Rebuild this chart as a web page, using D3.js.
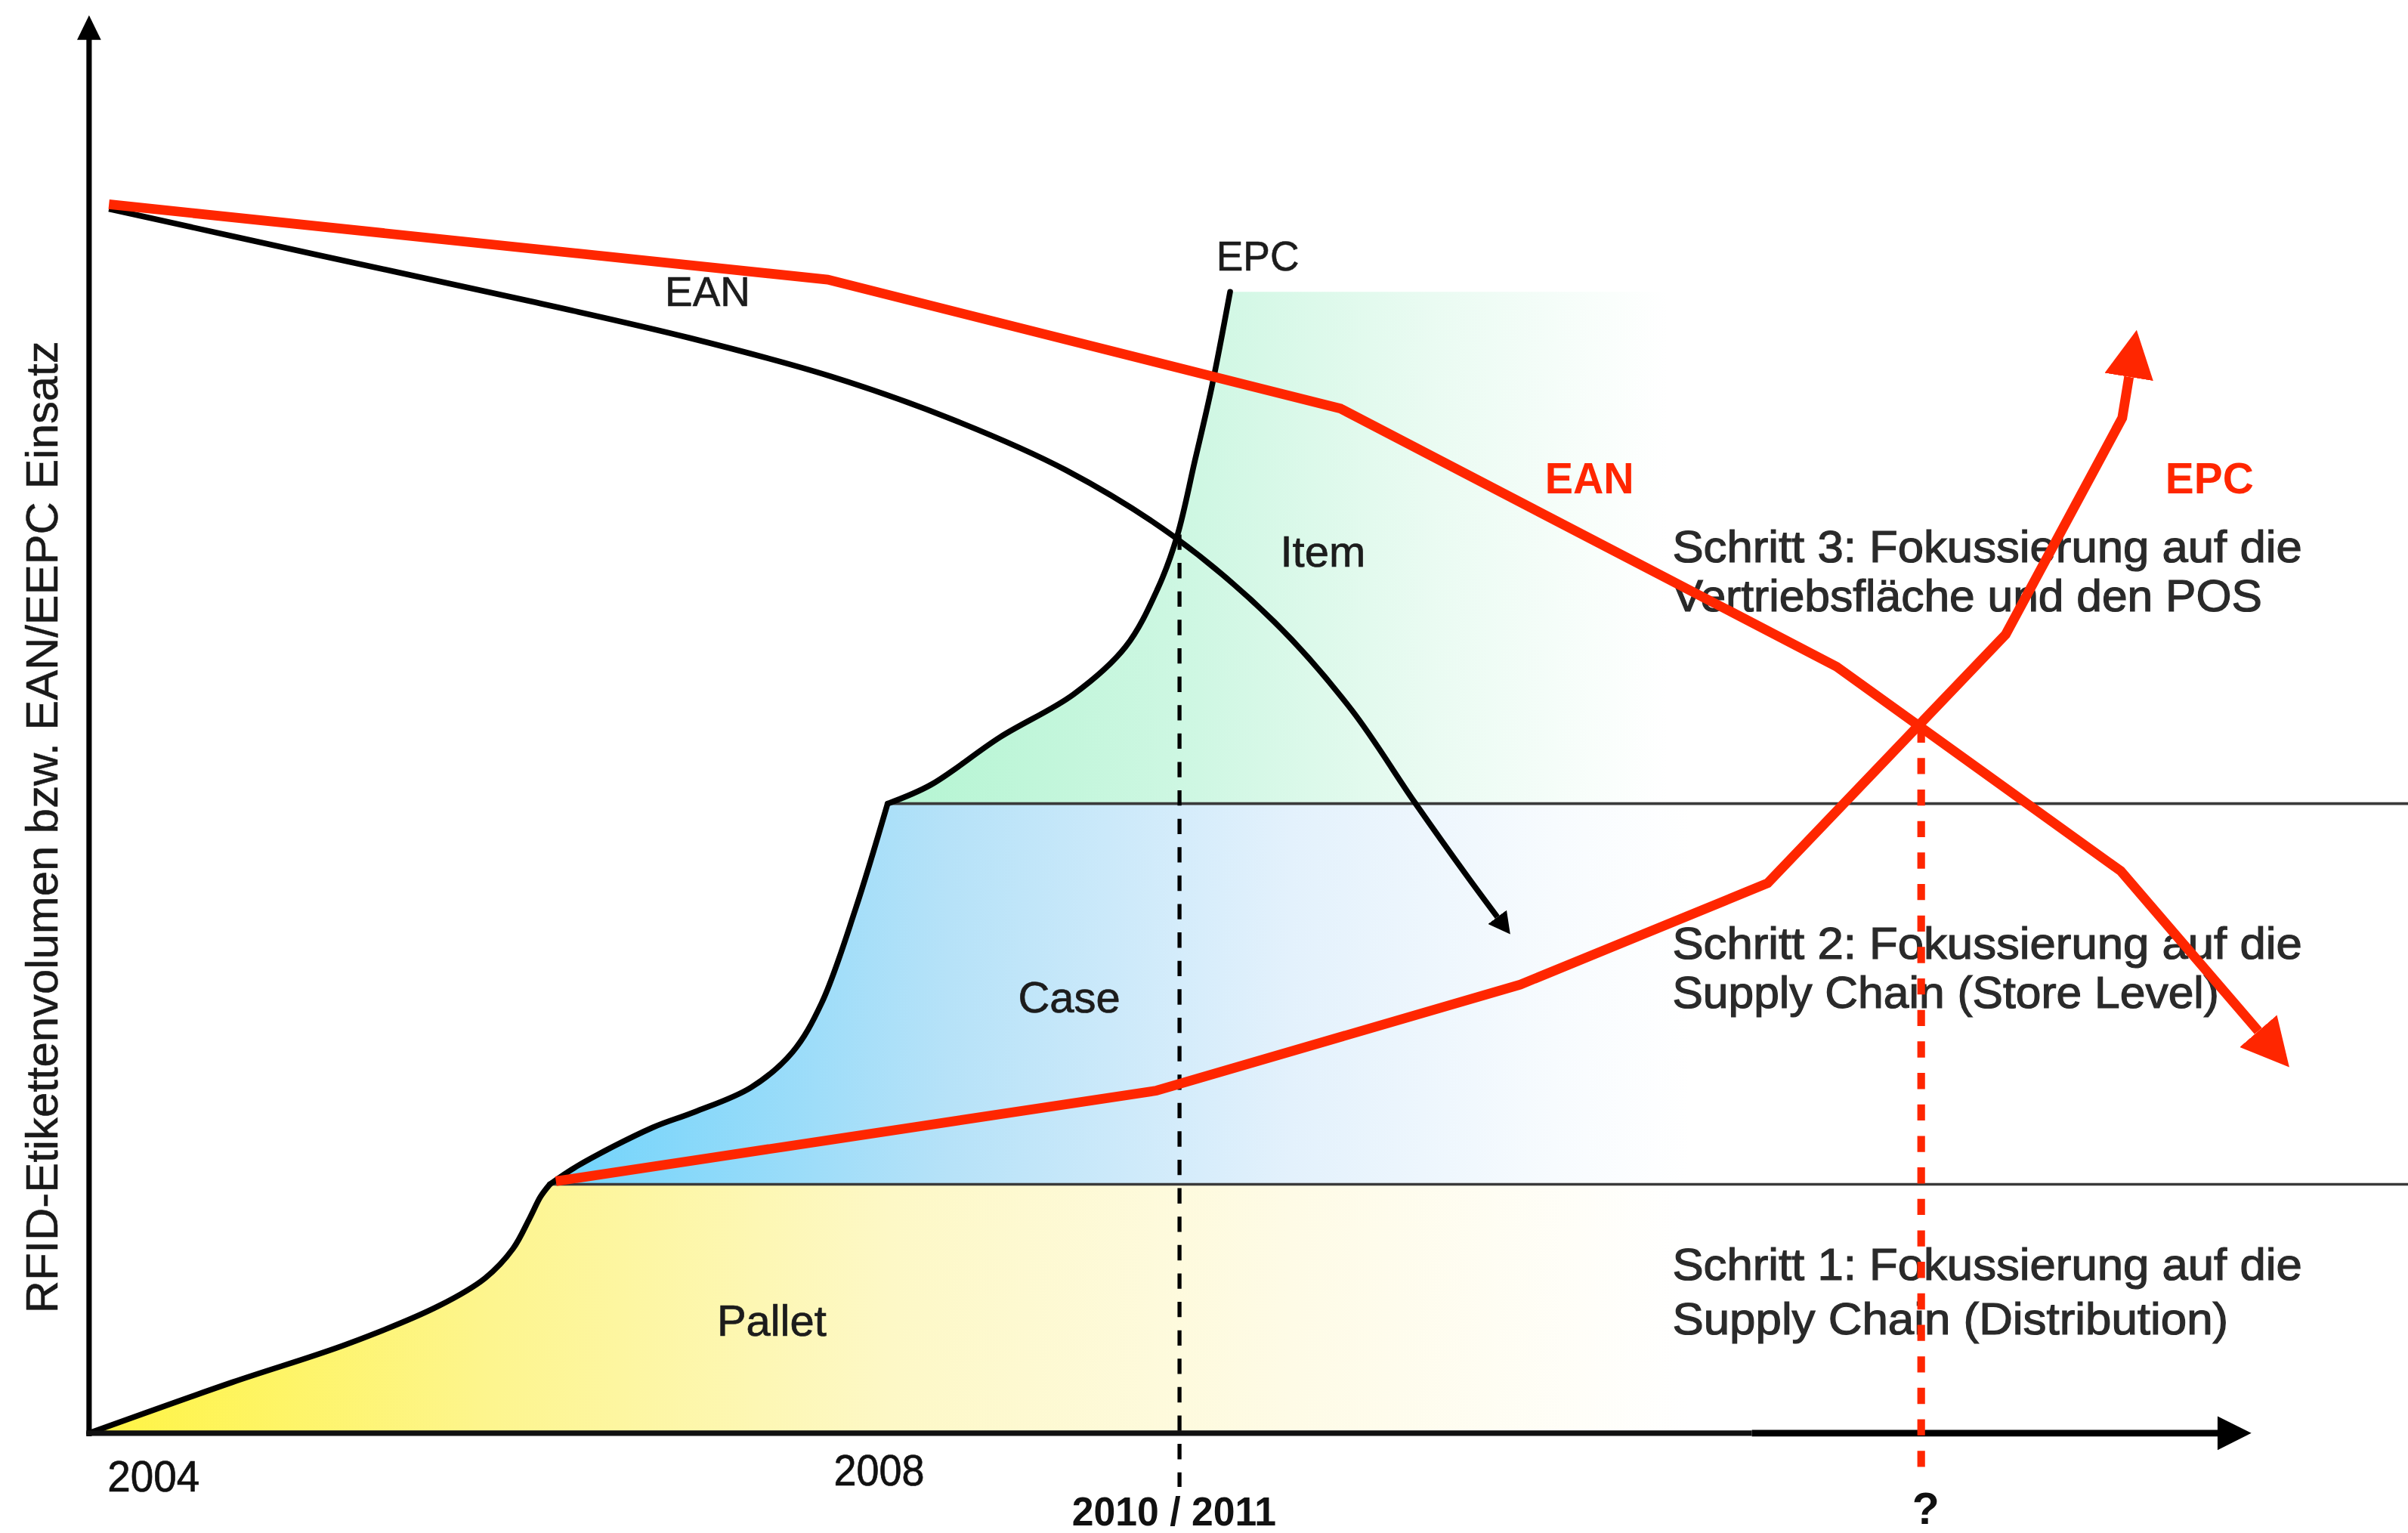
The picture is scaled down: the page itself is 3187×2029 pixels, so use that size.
<!DOCTYPE html>
<html>
<head>
<meta charset="utf-8">
<script src="https://cdn.jsdelivr.net/npm/d3@7"></script>
<style>
  html, body { margin: 0; padding: 0; background: #fff; overflow: hidden; }
  svg { display: block; }
</style>
</head>
<body>
<svg id="chart"></svg>
<script>
// Time index (x) and tag volume index (y), both 0–100 along the axes.

// Roll-out stages and the volume level each stage reaches
const bandNames = ["Pallet", "Case", "Item"];
const bandTops = [17.55, 44.4, 80.5];

// EPC adoption curve, one piece per stage
const palletEdge = [[0, 0], [6.61, 3.58], [11.93, 6.28], [16.19, 8.99], [18.32, 10.94], [19.60, 13.00], [20.38, 15.17], [20.88, 16.68], [21.31, 17.55]];
const caseEdge = [[21.31, 17.55], [22.59, 18.85], [26.07, 21.56], [27.98, 22.64], [30.61, 24.38], [32.53, 26.87], [33.88, 30.34], [35.44, 36.94], [36.93, 44.4]];
const itemEdge = [[36.93, 44.4], [38.92, 45.72], [42.12, 49.08], [45.53, 52.11], [47.94, 55.47], [49.43, 59.59], [50.32, 63.27], [51.14, 68.58], [51.92, 73.78], [52.77, 80.5]];

// EAN decline curve (black)
const eanCurve = [[0.92, 86.35], [10.58, 83.10], [20.38, 79.85], [27.77, 77.25], [34.30, 74.54], [39.91, 71.51], [45.17, 67.93], [50.14, 63.27], [54.83, 57.20], [58.38, 51.03], [61.29, 44.53], [63.71, 39.33], [65.13, 36.40]];

// Revised outlook (red)
const eanTrend = [[0.92, 86.67], [34.16, 81.36], [57.88, 72.26], [80.82, 54.06], [93.96, 39.65], [100.32, 28.36]];
const epcTrend = [[21.59, 17.77], [49.36, 24.16], [66.19, 31.64], [77.63, 38.79], [88.64, 56.34], [94.03, 71.61], [94.34, 74.5]];

// Time axis labels
const xTickLabels = ["2004", "2008", "2010 / 2011", "?"];
const xTickValues = [2.98, 36.54, 50.18, 84.94];

// Crossing points marked by dashed drop lines
const crossX = [50.43, 84.73];
const crossY = [63.38, 49.84];

// Stage label anchors
const bandLabelX = [31.57, 45.33, 57.06];
const bandLabelY = [6.88, 29.69, 61.1];

// Stage descriptions (bottom to top)
const stepTexts = [
  ["Schritt 1: Fokussierung auf die", "Supply Chain (Distribution)"],
  ["Schritt 2: Fokussierung auf die", "Supply Chain (Store Level)"],
  ["Schritt 3: Fokussierung auf die", "Vertriebsfläche und den POS"]
];
const stepBaselines = [[10.83, 6.99], [33.48, 30.01], [61.43, 57.96]];
const stepWidths = [[410, 362], [410, 356], [410, 384]];

// ---------------------------------------------------------------
const W = 3187, H = 2029;
const baseW = 1568, baseH = 998;
const svg = d3.select("#chart").attr("width", W).attr("height", H);
const root = svg.append("g").attr("transform", `scale(${W / baseW},${H / baseH})`);

const x = d3.scaleLinear().domain([0, 100]).range([58, 1466]);
const y = d3.scaleLinear().domain([0, 100]).range([933, 10]);
const xRight = x.invert(baseW);

const RED = "#ff2600";
const INK = "#1c1c1c";
const FONT = "'Liberation Sans', Arial, Helvetica, sans-serif";

const defs = svg.append("defs");
function hGrad(id, x1, x2, stops) {
  const g = defs.append("linearGradient").attr("id", id)
    .attr("gradientUnits", "userSpaceOnUse")
    .attr("x1", x1).attr("x2", x2).attr("y1", 0).attr("y2", 0);
  stops.forEach(([o, c]) => g.append("stop").attr("offset", o).attr("stop-color", c));
}
hGrad("gPallet", x(0), x(74), [[0, "#fff442"], [0.25, "#fdf58e"], [0.5, "#fdf8c6"], [0.75, "#fefbe6"], [1, "#ffffff"]]);
hGrad("gCase", x(21.3), x(74), [[0, "#6fd3fb"], [0.35, "#b6e2f8"], [0.65, "#e3f1fc"], [0.88, "#f7fbfe"], [1, "#ffffff"]]);
hGrad("gItem", x(36.9), x(73), [[0, "#b4f5d2"], [0.4, "#cff7e3"], [0.7, "#eafbf2"], [1, "#ffffff"]]);

function arrowMarker(id, color, len, half) {
  defs.append("marker").attr("id", id)
    .attr("markerUnits", "userSpaceOnUse")
    .attr("viewBox", `0 ${-half} ${len} ${2 * half}`)
    .attr("refX", 0).attr("refY", 0)
    .attr("markerWidth", len).attr("markerHeight", 2 * half)
    .attr("orient", "auto")
    .append("path").attr("d", `M0,${-half}L${len},0L0,${half}Z`).attr("fill", color);
}
arrowMarker("arRed", RED, 31, 16);
arrowMarker("arBlack", "#000", 14, 7.5);

const smooth = d3.line().x(d => x(d[0])).y(d => y(d[1])).curve(d3.curveCatmullRom.alpha(0.5));
const straight = d3.line().x(d => x(d[0])).y(d => y(d[1]));

// ---- stage areas ----
const edges = [palletEdge, caseEdge, itemEdge];
const fills = ["url(#gPallet)", "url(#gCase)", "url(#gItem)"];
edges.forEach((edge, i) => {
  const lower = i === 0 ? 0 : bandTops[i - 1];
  const first = edge[0];
  root.append("path")
    .attr("d", smooth(edge) +
      `L${x(xRight)},${y(bandTops[i])}L${x(xRight)},${y(lower)}L${x(first[0])},${y(lower)}Z`)
    .attr("fill", fills[i]);
});

// stage boundaries
[0, 1].forEach(i => {
  root.append("line")
    .attr("x1", x(edges[i][edges[i].length - 1][0])).attr("x2", x(xRight))
    .attr("y1", y(bandTops[i])).attr("y2", y(bandTops[i]))
    .attr("stroke", "#3a3a3a").attr("stroke-width", 1.8);
});

// stage labels
bandNames.forEach((n, i) => {
  root.append("text").text(n)
    .attr("x", x(bandLabelX[i])).attr("y", y(bandLabelY[i]))
    .attr("text-anchor", "middle")
    .attr("font-family", FONT).attr("font-size", 28.5)
    .attr("fill", INK).attr("stroke", INK).attr("stroke-width", 0.35);
});

// ---- black curves ----
edges.forEach(edge => {
  root.append("path").attr("d", smooth(edge))
    .attr("fill", "none").attr("stroke", "#000").attr("stroke-width", 3.7)
    .attr("stroke-linejoin", "round").attr("stroke-linecap", "round");
});
root.append("path").attr("d", smooth(eanCurve))
  .attr("fill", "none").attr("stroke", "#000").attr("stroke-width", 3.7)
  .attr("stroke-linecap", "butt")
  .attr("marker-end", "url(#arBlack)");

root.append("text").text("EAN")
  .attr("x", 433).attr("y", 199)
  .attr("font-family", FONT).attr("font-size", 27)
  .attr("fill", INK).attr("stroke", INK).attr("stroke-width", 0.3)
  .attr("textLength", 55.5).attr("lengthAdjust", "spacingAndGlyphs");
root.append("text").text("EPC")
  .attr("x", x(itemEdge[itemEdge.length - 1][0]) - 9).attr("y", 176)
  .attr("font-family", FONT).attr("font-size", 27)
  .attr("fill", INK).attr("stroke", INK).attr("stroke-width", 0.3)
  .attr("textLength", 54).attr("lengthAdjust", "spacingAndGlyphs");

// black drop line at the EAN/EPC crossing
root.append("line")
  .attr("x1", x(crossX[0])).attr("x2", x(crossX[0]))
  .attr("y1", y(crossY[0])).attr("y2", 968)
  .attr("stroke", "#000").attr("stroke-width", 2.6)
  .attr("stroke-dasharray", "10,8.5");

// ---- stage descriptions ----
stepTexts.forEach((lines, i) => {
  lines.forEach((t, j) => {
    root.append("text").text(t)
      .attr("x", 1089).attr("y", y(stepBaselines[i][j]))
      .attr("font-family", FONT).attr("font-size", 29.5)
      .attr("fill", "#2a2a2a").attr("stroke", "#2a2a2a").attr("stroke-width", 0.6)
      .attr("textLength", stepWidths[i][j]).attr("lengthAdjust", "spacingAndGlyphs");
  });
});

// ---- axes ----
root.append("line")
  .attr("x1", x(0)).attr("x2", x(0)).attr("y1", y(0) + 2).attr("y2", y(100) + 14)
  .attr("stroke", "#000").attr("stroke-width", 3.5);
root.append("path")
  .attr("d", `M${x(0)},${y(100)}L${x(0) - 7.8},${y(100) + 16}L${x(0) + 7.8},${y(100) + 16}Z`)
  .attr("fill", "#000");
root.append("line")
  .attr("x1", x(0) - 1.75).attr("x2", x(76.9)).attr("y1", y(0)).attr("y2", y(0))
  .attr("stroke", "#111").attr("stroke-width", 3.6);
root.append("line")
  .attr("x1", x(76.9)).attr("x2", x(100) - 20).attr("y1", y(0)).attr("y2", y(0))
  .attr("stroke", "#000").attr("stroke-width", 4.4);
root.append("path")
  .attr("d", `M${x(100)},${y(0)}L${x(100) - 22},${y(0) - 11}L${x(100) - 22},${y(0) + 11}Z`)
  .attr("fill", "#000");

root.append("text").text("RFID-Etikettenvolumen bzw. EAN/EEPC Einsatz")
  .attr("transform", `translate(37.5,${(855 + 222) / 2}) rotate(-90)`)
  .attr("text-anchor", "middle")
  .attr("font-family", FONT).attr("font-size", 29)
  .attr("fill", "#1a1a1a").attr("stroke", "#1a1a1a").attr("stroke-width", 0.25)
  .attr("textLength", 633).attr("lengthAdjust", "spacingAndGlyphs");

const tickStyle = [
  { w: 60, size: 28, weight: "normal", base: 971 },
  { w: 59, size: 28, weight: "normal", base: 967 },
  { w: 133, size: 26, weight: "bold", base: 993 },
  { w: null, size: 29, weight: "bold", base: 992 }
];
xTickLabels.forEach((t, i) => {
  const s = tickStyle[i];
  const el = root.append("text").text(t)
    .attr("x", x(xTickValues[i])).attr("y", s.base)
    .attr("text-anchor", "middle")
    .attr("font-family", FONT).attr("font-size", s.size).attr("font-weight", s.weight)
    .attr("fill", "#111").attr("stroke", "#111").attr("stroke-width", s.weight === "bold" ? 0 : 0.35);
  if (s.w) el.attr("textLength", s.w).attr("lengthAdjust", "spacingAndGlyphs");
});

// ---- red outlook ----
root.append("line")
  .attr("x1", x(crossX[1])).attr("x2", x(crossX[1]))
  .attr("y1", y(crossY[1])).attr("y2", 961)
  .attr("stroke", RED).attr("stroke-width", 5)
  .attr("stroke-dasharray", "10.5,10");

[eanTrend, epcTrend].forEach(series => {
  root.append("path").attr("d", straight(series))
    .attr("fill", "none").attr("stroke", RED).attr("stroke-width", 6.3)
    .attr("stroke-linejoin", "miter").attr("stroke-linecap", "butt")
    .attr("marker-end", "url(#arRed)");
});

root.append("text").text("EAN")
  .attr("x", 1006).attr("y", 321)
  .attr("font-family", FONT).attr("font-size", 28).attr("font-weight", "bold").attr("fill", RED)
  .attr("textLength", 58).attr("lengthAdjust", "spacingAndGlyphs");
root.append("text").text("EPC")
  .attr("x", 1410).attr("y", 321)
  .attr("font-family", FONT).attr("font-size", 28).attr("font-weight", "bold").attr("fill", RED)
  .attr("textLength", 57.5).attr("lengthAdjust", "spacingAndGlyphs");
</script>
</body>
</html>
